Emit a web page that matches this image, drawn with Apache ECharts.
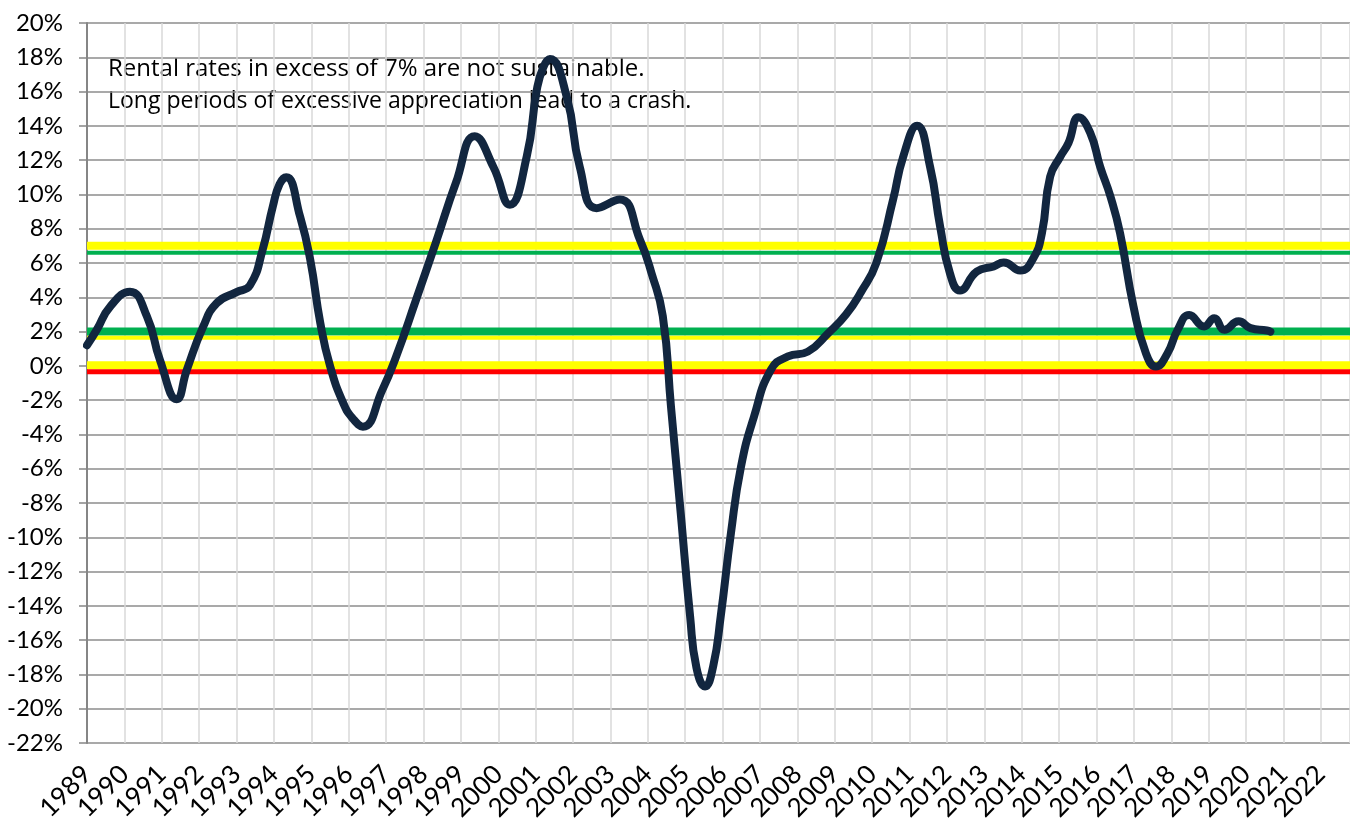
<!DOCTYPE html>
<html>
<head>
<meta charset="utf-8">
<script src="https://cdn.jsdelivr.net/npm/echarts@6/dist/echarts.min.js"></script>
<style>
  html, body { margin: 0; padding: 0; background: #fff; }
  #chart { width: 1350px; height: 820px; }
</style>
</head>
<body>
<div id="chart"></div>
<script>
  // rental rate growth (year as decimal, % change)
  var years = [1989.0, 1989.26, 1989.62, 1990.15, 1990.6, 1990.95, 1991.4, 1991.67, 1992.11, 1992.47,
    1993.0, 1993.36, 1993.7, 1993.97, 1994.15, 1994.33, 1994.7, 1994.97, 1995.24, 1995.5,
    1995.86, 1996.12, 1996.38, 1996.9, 1997.27, 1997.8, 1998.33, 1998.87, 1999.37, 1999.87,
    2000.31, 2000.76, 2001.03, 2001.2, 2001.38, 2001.83, 2002.18, 2002.63, 2003.25, 2003.79,
    2004.1, 2004.4, 2004.62, 2004.88, 2005.13, 2005.3, 2005.53, 2005.75, 2005.95, 2006.22,
    2006.49, 2006.84, 2007.3, 2007.75, 2008.28, 2008.82, 2009.3, 2009.7, 2010.11, 2010.56,
    2010.83, 2011.2, 2011.55, 2011.82, 2012.08, 2012.35, 2012.8, 2013.25, 2013.52, 2013.96,
    2014.31, 2014.54, 2014.76, 2015.03, 2015.25, 2015.52, 2015.83, 2016.1, 2016.37, 2016.63,
    2016.99, 2017.32, 2017.59, 2017.9, 2018.17, 2018.48, 2018.88, 2019.15, 2019.42, 2019.8,
    2020.12, 2020.56, 2020.65];
  var rates = [1.2, 2.1, 3.46, 4.33, 2.9, 0.35, -1.95, -0.23, 2.3, 3.66,
    4.3, 4.7, 6.8, 9.3, 10.6, 11.0, 8.7, 6.2, 2.5, 0.0,
    -2.2, -3.1, -3.55, -1.4, 0.55, 3.85, 7.2, 10.7, 13.4, 11.6,
    9.4, 12.2, 16.1, 17.4, 17.9, 15.7, 11.6, 9.2, 9.7, 7.35,
    5.4, 2.9, -2.4, -8.6, -14.6, -17.6, -18.7, -17.5, -14.6, -9.8,
    -5.9, -2.96, -0.2, 0.55, 0.83, 1.9, 3.0, 4.3, 6.0, 9.7,
    12.2, 14.0, 11.6, 8.1, 5.4, 4.4, 5.5, 5.8, 6.03, 5.56,
    6.28, 7.74, 11.04, 12.2, 13.0, 14.5, 13.6, 11.6, 9.9, 7.74,
    3.46, 0.74, -0.04, 0.74, 2.1, 2.97, 2.3, 2.78, 2.1, 2.6,
    2.2, 2.06, 2.0];

  // reference bands
  var bandLevels = [7.0, 6.6, 2.0, 1.64, 0.03, -0.34];
  var bandColors = ['#FFFF00', '#00B050', '#00B050', '#FFFF00', '#FFFF00', '#FF0000'];
  var bandWidths = [8, 4, 8, 4, 8, 5];

  var noteLines = ['Rental rates in excess of 7% are not sustainable.',
    'Long periods of excessive appreciation lead to a crash.'];

  var xMin = 1989, xMax = 2022.78;
  var yMin = -22, yMax = 20;

  var lineData = [];
  for (var i = 0; i < years.length; i++) {
    lineData.push([years[i], rates[i]]);
  }

  var series = [];
  for (var b = 0; b < bandLevels.length; b++) {
    series.push({
      type: 'line',
      silent: true,
      showSymbol: false,
      z: 1,
      data: [[xMin, bandLevels[b]], [xMax, bandLevels[b]]],
      lineStyle: { color: bandColors[b], width: bandWidths[b] }
    });
  }
  series.push({
    name: 'Rent growth',
    type: 'line',
    smooth: 0.5,
    showSymbol: false,
    z: 5,
    data: lineData,
    lineStyle: { color: '#12263F', width: 8, cap: 'round', join: 'round' }
  });

  var myChart = echarts.init(document.getElementById('chart'));
  myChart.setOption({
    animation: false,
    grid: { left: 87, right: 0, top: 23, bottom: 77, containLabel: false, outerBoundsMode: 'none' },
    xAxis: {
      type: 'value',
      min: xMin,
      max: xMax,
      interval: 1,
      axisLine: { show: false },
      axisTick: { show: false },
      axisLabel: {
        rotate: 45,
        margin: 27,
        fontFamily: 'Lato',
        fontSize: 26,
        color: '#000',
        showMaxLabel: false,
        formatter: function (v) { return Math.round(v) === v ? String(v) : ''; }
      },
      splitLine: { show: true, lineStyle: { color: '#D9D9D9', width: 1.5 } }
    },
    yAxis: {
      type: 'value',
      min: yMin,
      max: yMax,
      interval: 2,
      axisLine: { show: true, onZero: false, lineStyle: { color: '#868686', width: 2 } },
      axisTick: { show: true, length: 8, lineStyle: { color: '#868686', width: 1.5 } },
      axisLabel: {
        margin: 24,
        fontFamily: 'Lato',
        fontSize: 24,
        color: '#000',
        formatter: function (v) { return v + '%'; }
      },
      splitLine: { show: true, lineStyle: { color: '#8C8C8C', width: 1.5 } }
    },
    graphic: [
      { type: 'text', left: 108, top: 57, z: 0, style: { text: noteLines[0], font: '24px "Open Sans"', fill: '#000' } },
      { type: 'text', left: 108, top: 90, z: 0, style: { text: noteLines[1], font: '23px "Open Sans"', fill: '#000' } }
    ],
    series: series
  });
</script>
</body>
</html>
